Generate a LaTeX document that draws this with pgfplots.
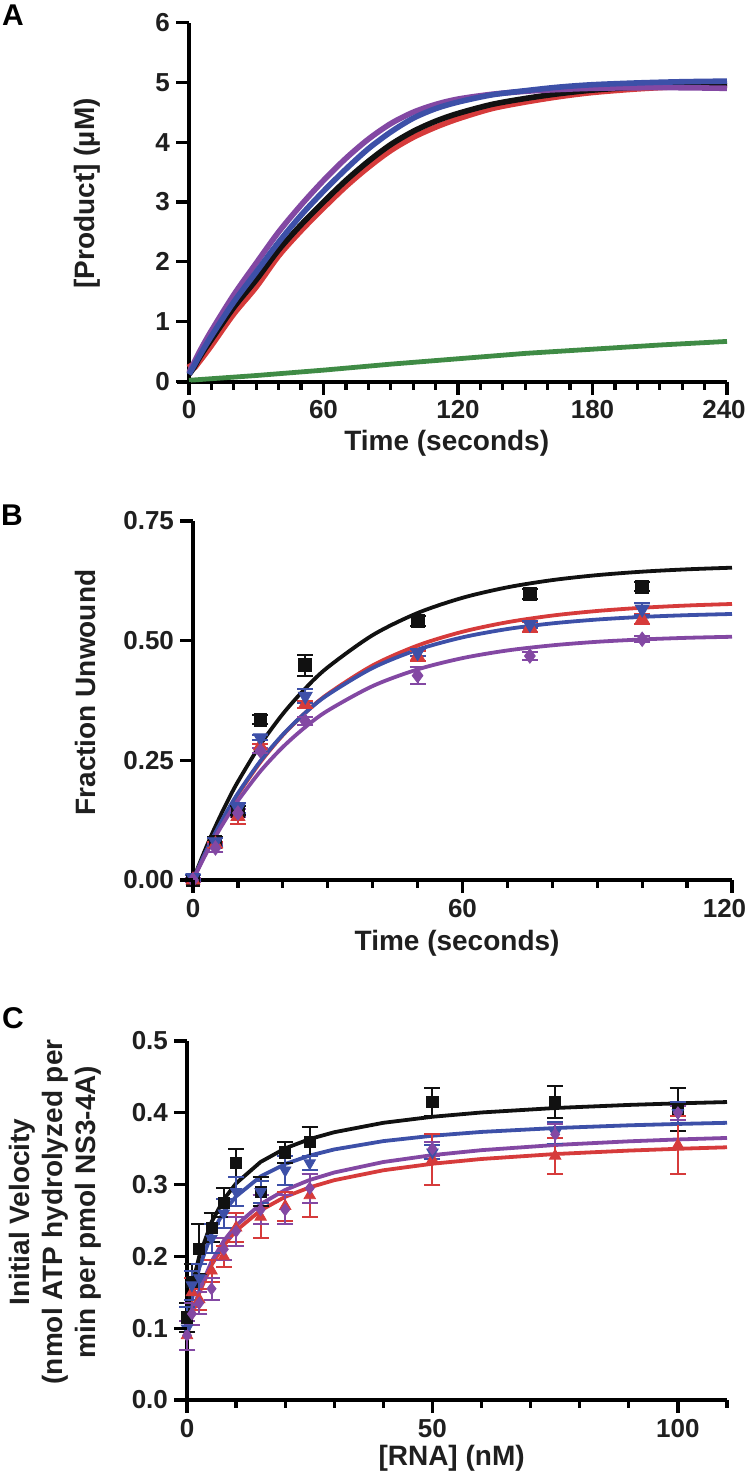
\documentclass[border=0pt]{standalone}
\usepackage{fontspec}
\setmainfont{Liberation Sans}
\usepackage{pgfplots}
\pgfplotsset{compat=1.18}
\definecolor{cred}{HTML}{D63B3B}
\definecolor{cblue}{HTML}{3D50A8}
\definecolor{cpurple}{HTML}{8348A3}
\definecolor{cgreen}{HTML}{3F8B45}
\definecolor{cblk}{HTML}{111111}
\pgfplotsset{
  panel/.style={
    scale only axis, height=179.5pt,
    axis x line*=bottom, axis y line*=left,
    axis line style={line width=2pt, black},
    tick style={line width=1.6pt, black},
    major tick length=6pt, minor tick length=3.5pt,
    tick align=outside,
    ticklabel style={font=\fontsize{13}{13}\selectfont\bfseries, text=black!88},
    clip=false,
  },
  errs/.style={only marks,
    error bars/y dir=both, error bars/y explicit,
    error bars/error bar style={line width=1pt},
    error bars/error mark options={rotate=90, mark size=4pt, line width=1pt}},
}
\begin{document}
\begin{tikzpicture}
\useasboundingbox (0,0) rectangle (375pt,-738.5pt);
\node[font=\fontsize{15}{15}\selectfont\bfseries] at (6.5pt,-7.5pt) {A};
\node[font=\fontsize{15}{15}\selectfont\bfseries] at (6pt,-257.5pt) {B};
\node[font=\fontsize{15}{15}\selectfont\bfseries] at (6.5pt,-509pt) {C};

% ---------------- Panel A ----------------
\begin{axis}[panel, width=269pt, at={(94.5pt,-190.75pt)}, anchor=south west,
  xmin=0, xmax=240, ymin=0, ymax=6,
  xtick={0,60,120,180,240}, xticklabels={0,60,120,180,\makebox[0pt]{\hspace*{-3pt}240}},
  minor xtick={10,20,30,40,50,70,80,90,100,110,130,140,150,160,170,190,200,210,220,230},
  ytick={0,1,2,3,4,5,6}, yticklabels={0,1,2,3,4,5,6},
  xlabel={Time (seconds)}, ylabel={[Product] (µM)},
  every axis x label/.style={at={(axis description cs:0.479,-0.171)}, anchor=center, font=\fontsize{14}{16}\selectfont\bfseries, text=black!88},
  every axis y label/.style={at={(axis description cs:-0.190,0.524)}, rotate=90, anchor=center, font=\fontsize{14}{16}\selectfont\bfseries, text=black!88},
]
\addplot[cgreen, line width=2.4pt, mark=none] coordinates {(0,0.02) (30,0.10) (60,0.19) (90,0.29) (120,0.38) (150,0.47) (180,0.54) (210,0.61) (240,0.67)};
\addplot[cred, line width=2.8pt, mark=none, smooth] coordinates {(0,0.30) (2,0.22) (5,0.35) (10,0.60) (20,1.13) (30,1.58) (40,2.10) (50,2.52) (60,2.90) (70,3.26) (80,3.58) (90,3.86) (100,4.08) (110,4.25) (120,4.39) (135,4.56) (150,4.67) (165,4.76) (180,4.83) (200,4.89) (220,4.93) (240,4.95)};
\addplot[cblk, line width=2.8pt, mark=none, smooth] coordinates {(0,0.12) (2,0.22) (5,0.42) (10,0.70) (20,1.24) (30,1.70) (40,2.20) (50,2.62) (60,3.00) (70,3.36) (80,3.68) (90,3.96) (100,4.18) (110,4.35) (120,4.48) (135,4.63) (150,4.73) (165,4.81) (180,4.87) (200,4.92) (220,4.94) (240,4.94)};
\addplot[cpurple, line width=2.8pt, mark=none, smooth] coordinates {(0,0.15) (2,0.30) (5,0.52) (10,0.85) (20,1.45) (30,1.98) (40,2.50) (50,2.95) (60,3.36) (70,3.73) (80,4.05) (90,4.31) (100,4.50) (110,4.63) (120,4.72) (135,4.80) (150,4.85) (165,4.88) (180,4.90) (200,4.91) (220,4.91) (240,4.90)};
\addplot[cblue, line width=2.8pt, mark=none, smooth] coordinates {(0,0.12) (2,0.25) (5,0.45) (10,0.76) (20,1.33) (30,1.83) (40,2.33) (50,2.78) (60,3.18) (70,3.55) (80,3.89) (90,4.17) (100,4.40) (110,4.56) (120,4.67) (135,4.79) (150,4.86) (165,4.92) (180,4.96) (200,4.99) (220,5.01) (240,5.02)};
\end{axis}

% ---------------- Panel B ----------------
\begin{axis}[panel, width=269.5pt, at={(96.5pt,-440pt)}, anchor=south west,
  xmin=0, xmax=120, ymin=0, ymax=0.75,
  xtick={0,60,120}, xticklabels={0,60,\makebox[0pt]{\hspace*{-7.5pt}120}},
  minor xtick={10,20,30,40,50,70,80,90,100,110},
  ytick={0,0.25,0.5,0.75}, yticklabels={0.00,0.25,0.50,0.75},
  xlabel={Time (seconds)}, ylabel={Fraction Unwound},
  every axis x label/.style={at={(axis description cs:0.49,-0.176)}, anchor=center, font=\fontsize{14}{16}\selectfont\bfseries, text=black!88},
  every axis y label/.style={at={(axis description cs:-0.2,0.522)}, rotate=90, anchor=center, font=\fontsize{14}{16}\selectfont\bfseries, text=black!88},
]
\addplot[cblk, line width=1.9pt, mark=none, smooth] coordinates {(0,0) (2,0.0474) (4,0.0915) (6,0.1323) (8,0.1703) (10,0.2055) (15,0.2828) (20,0.3470) (25,0.4002) (30,0.4444) (40,0.5116) (50,0.5578) (60,0.5896) (70,0.6115) (80,0.6266) (90,0.6370) (100,0.6442) (110,0.6491) (120,0.6525)};
\addplot[cred, line width=1.9pt, mark=none, smooth] coordinates {(0,0) (2,0.0411) (4,0.0793) (6,0.1148) (8,0.1479) (10,0.1786) (15,0.2462) (20,0.3026) (25,0.3495) (30,0.3886) (40,0.4484) (50,0.4899) (60,0.5187) (70,0.5386) (80,0.5525) (90,0.5621) (100,0.5688) (110,0.5735) (120,0.5767)};
\addplot[cblue, line width=1.9pt, mark=none, smooth] coordinates {(0,0) (2,0.0421) (4,0.0810) (6,0.1170) (8,0.1503) (10,0.1811) (15,0.2485) (20,0.3038) (25,0.3494) (30,0.3869) (40,0.4431) (50,0.4812) (60,0.5070) (70,0.5244) (80,0.5362) (90,0.5442) (100,0.5497) (110,0.5533) (120,0.5558)};
\addplot[cpurple, line width=1.9pt, mark=none, smooth] coordinates {(0,0) (2,0.0385) (4,0.0741) (6,0.1070) (8,0.1375) (10,0.1657) (15,0.2272) (20,0.2778) (25,0.3195) (30,0.3539) (40,0.4052) (50,0.4400) (60,0.4636) (70,0.4796) (80,0.4903) (90,0.4977) (100,0.5026) (110,0.5060) (120,0.5082)};
\addplot[cblk, mark=square*, mark size=3.2pt, errs] coordinates {(0,0) +- (0,0.005) (5,0.08) +- (0,0.01) (10,0.145) +- (0,0.01) (15,0.335) +- (0,0.01) (25,0.449) +- (0,0.022) (50,0.541) +- (0,0.01) (75,0.597) +- (0,0.01) (100,0.613) +- (0,0.01)};
\addplot[cred, mark=triangle*, mark size=4pt, errs] coordinates {(0,0) +- (0,0.005) (5,0.075) +- (0,0.005) (10,0.133) +- (0,0.015) (15,0.28) +- (0,0.005) (25,0.367) +- (0,0.008) (50,0.468) +- (0,0.01) (75,0.529) +- (0,0.01) (100,0.545) +- (0,0.01)};
\addplot[cblue, mark=triangle*, mark size=4pt, mark options={rotate=180}, errs] coordinates {(0,0.005) +- (0,0.005) (5,0.08) +- (0,0.008) (10,0.15) +- (0,0.01) (15,0.297) +- (0,0.005) (25,0.384) +- (0,0.015) (50,0.475) +- (0,0.008) (75,0.534) +- (0,0.008) (100,0.566) +- (0,0.012)};
\addplot[cpurple, mark=diamond*, mark size=3.6pt, errs] coordinates {(0,0) +- (0,0.005) (5,0.067) +- (0,0.008) (10,0.14) +- (0,0.008) (15,0.27) +- (0,0.005) (25,0.332) +- (0,0.008) (50,0.427) +- (0,0.017) (75,0.468) +- (0,0.008) (100,0.503) +- (0,0.006)};
\end{axis}

% ---------------- Panel C ----------------
\begin{axis}[panel, width=270pt, at={(93.5pt,-700pt)}, anchor=south west,
  xmin=0, xmax=110, ymin=0, ymax=0.5,
  xtick={0,50,100}, xticklabels={0,50,100},
  minor xtick={10,20,30,40,60,70,80,90,110},
  ytick={0,0.1,0.2,0.3,0.4,0.5}, yticklabels={0.0,0.1,0.2,0.3,0.4,0.5},
  xlabel={[RNA] (nM)}, ylabel={Initial Velocity\\(nmol ATP hydrolyzed per\\min per pmol NS3-4A)},
  every axis x label/.style={at={(axis description cs:0.49,-0.162)}, anchor=center, font=\fontsize{14}{16}\selectfont\bfseries, text=black!88},
  every axis y label/.style={at={(axis description cs:-0.244,0.524)}, rotate=90, anchor=center, align=center, font=\fontsize{14}{16.5}\selectfont\bfseries, text=black!88},
]
\addplot[cred, line width=1.9pt, mark=none] coordinates {(0,0.09) (1,0.1171) (2.5,0.1493) (5,0.1881) (7.5,0.2156) (10,0.2359) (15,0.2642) (20,0.2830) (25,0.2962) (30,0.3062) (40,0.3200) (50,0.3291) (60,0.3357) (75,0.3426) (90,0.3474) (100,0.3499) (110,0.3520)};
\addplot[cpurple, line width=1.9pt, mark=none] coordinates {(0,0.09) (1,0.1185) (2.5,0.1523) (5,0.1930) (7.5,0.2218) (10,0.2432) (15,0.2729) (20,0.2926) (25,0.3065) (30,0.3169) (40,0.3315) (50,0.3411) (60,0.3480) (75,0.3552) (90,0.3603) (100,0.3629) (110,0.3650)};
\addplot[cblue, line width=1.9pt, mark=none] coordinates {(0,0.10) (1,0.1404) (2.5,0.1842) (5,0.2317) (7.5,0.2623) (10,0.2836) (15,0.3114) (20,0.3287) (25,0.3405) (30,0.3490) (40,0.3606) (50,0.3681) (60,0.3734) (75,0.3788) (90,0.3826) (100,0.3845) (110,0.3861)};
\addplot[cblk, line width=1.9pt, mark=none] coordinates {(0,0.12) (1,0.1579) (2.5,0.2003) (5,0.2479) (7.5,0.2794) (10,0.3018) (15,0.3316) (20,0.3505) (25,0.3635) (30,0.3730) (40,0.3861) (50,0.3945) (60,0.4005) (75,0.4067) (90,0.4110) (100,0.4132) (110,0.4150)};
\addplot[cblk, mark=square*, mark size=2.8pt, errs] coordinates {(0,0.115) +- (0,0.02) (1,0.165) +- (0,0.025) (2.5,0.21) +- (0,0.035) (5,0.24) +- (0,0.02) (7.5,0.275) +- (0,0.02) (10,0.33) +- (0,0.02) (15,0.29) +- (0,0.02) (20,0.345) +- (0,0.015) (25,0.36) +- (0,0.02) (50,0.415) +- (0,0.02) (75,0.415) +- (0,0.022) (100,0.405) +- (0,0.03)};
\addplot[cred, mark=triangle*, mark size=3.3pt, errs] coordinates {(0,0.09) +- (0,0.02) (1,0.15) +- (0,0.02) (2.5,0.14) +- (0,0.015) (5,0.18) +- (0,0.015) (7.5,0.20) +- (0,0.015) (10,0.24) +- (0,0.02) (15,0.255) +- (0,0.03) (20,0.27) +- (0,0.02) (25,0.285) +- (0,0.03) (50,0.335) +- (0,0.035) (75,0.34) +- (0,0.025) (100,0.355) +- (0,0.04)};
\addplot[cblue, mark=triangle*, mark size=3.3pt, mark options={rotate=180}, errs] coordinates {(0,0.10) +- (0,0.03) (1,0.16) +- (0,0.02) (2.5,0.17) +- (0,0.02) (5,0.225) +- (0,0.02) (7.5,0.26) +- (0,0.02) (10,0.29) +- (0,0.02) (15,0.29) +- (0,0.015) (20,0.32) +- (0,0.02) (25,0.33) +- (0,0.01) (50,0.345) +- (0,0.01) (75,0.372) +- (0,0.015) (100,0.40) +- (0,0.015)};
\addplot[cpurple, mark=diamond*, mark size=3pt, errs] coordinates {(0,0.09) +- (0,0.02) (1,0.12) +- (0,0.015) (2.5,0.135) +- (0,0.015) (5,0.155) +- (0,0.015) (7.5,0.21) +- (0,0.015) (10,0.235) +- (0,0.02) (15,0.265) +- (0,0.02) (20,0.265) +- (0,0.02) (25,0.295) +- (0,0.02) (50,0.35) +- (0,0.01) (75,0.37) +- (0,0.015) (100,0.40) +- (0,0.01)};
\end{axis}

% ---------------- axis decorations: ticks and short x-axis stubs ----------------
\begin{scope}[line width=1.6pt, black]
% A
\draw[line width=2pt] (88.45pt,-190.75pt) -- (94.5pt,-190.75pt);
\foreach \t in {0,60,120,180,240} \draw ({94.5pt+\t*1.12083pt},-190.75pt) -- ++(0pt,-6.5pt);
\foreach \t in {10,20,30,40,50,70,80,90,100,110,130,140,150,160,170,190,200,210,220,230} \draw ({94.5pt+\t*1.12083pt},-190.75pt) -- ++(0pt,-4pt);
\foreach \v in {0,1,2,3,4,5,6} \draw (94.5pt,{-190.75pt+\v*29.9167pt}) -- ++(-6.5pt,0pt);
% B
\draw[line width=2pt] (91pt,-440pt) -- (96.5pt,-440pt);
\foreach \t in {0,60,120} \draw ({96.5pt+\t*2.24583pt},-440pt) -- ++(0pt,-6.5pt);
\foreach \t in {10,20,30,40,50,70,80,90,100,110} \draw ({96.5pt+\t*2.24583pt},-440pt) -- ++(0pt,-4pt);
\foreach \v in {0,1,2,3} \draw (96.5pt,{-440pt+\v*59.8333pt}) -- ++(-6.5pt,0pt);
% C
\draw[line width=2pt] (88pt,-700pt) -- (93.5pt,-700pt);
\foreach \t in {0,50,100} \draw ({93.5pt+\t*2.45455pt},-700pt) -- ++(0pt,-6.5pt);
\foreach \t in {10,20,30,40,60,70,80,90,110} \draw ({93.5pt+\t*2.45455pt},-700pt) -- ++(0pt,-4pt);
\foreach \v in {0,1,2,3,4,5} \draw (93.5pt,{-700pt+\v*35.9pt}) -- ++(-6.5pt,0pt);
\end{scope}
\end{tikzpicture}
\end{document}
